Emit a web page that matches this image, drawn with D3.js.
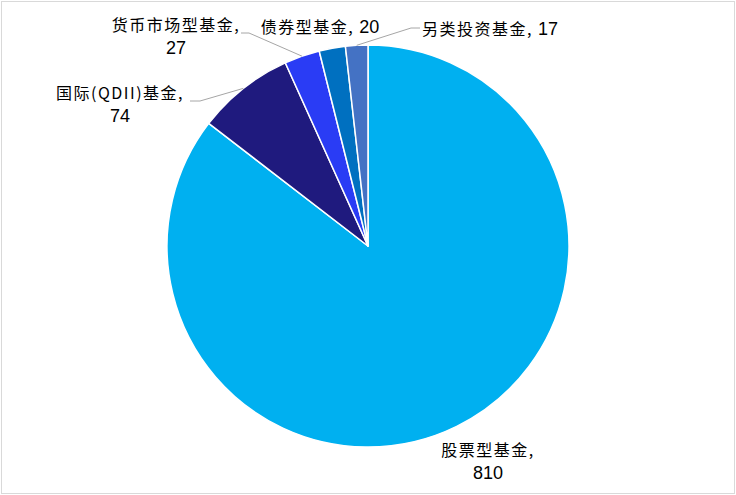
<!DOCTYPE html>
<html>
<head>
<meta charset="utf-8">
<script src="https://cdn.jsdelivr.net/npm/d3@7"></script>
<style>
  body { margin: 0; background: #fff; }
  svg { display: block; }
  text { font-family: "Noto Sans CJK SC", sans-serif; fill: #000; }
</style>
</head>
<body>
<div id="chart"></div>
<script>
// data
const categories = ["股票型基金", "国际(QDII)基金", "货币市场型基金", "债券型基金", "另类投资基金"];
const values = [810, 74, 27, 20, 17];
const colors = ["#00B0F0", "#1F1A7E", "#2A3CF5", "#0070C0", "#4472C4"];

// label layout: text centre, whether value goes on a second line, leader anchor (null = no leader)
const labelPos = [
  { x: 488, y: 456, wrap: true, lead: null },
  { x: 120, y: 99, wrap: true, lead: [190, 101, 200] },
  { x: 176, y: 31, wrap: true, lead: [241, 33, 249] },
  { x: 320, y: 33, wrap: false, lead: null },
  { x: 490, y: 35, wrap: false, lead: [420, 28, 411] }
];

const W = 736, H = 495;
const cx = 368, cy = 246, r = 201;

const svg = d3.select("#chart").append("svg")
  .attr("width", W)
  .attr("height", H);

// outer border
svg.append("rect")
  .attr("x", 1.5).attr("y", 1.5)
  .attr("width", W - 3).attr("height", H - 3)
  .attr("fill", "#fff")
  .attr("stroke", "#d9d9d9")
  .attr("stroke-width", 1);

const rows = categories.map((c, i) => ({ name: c, value: values[i], color: colors[i], pos: labelPos[i] }));

const pie = d3.pie().sort(null).value(d => d.value);
const arc = d3.arc().innerRadius(0).outerRadius(r);
const arcs = pie(rows);

const g = svg.append("g").attr("transform", `translate(${cx},${cy})`);

g.selectAll("path.slice")
  .data(arcs)
  .enter().append("path")
  .attr("class", "slice")
  .attr("d", arc)
  .attr("fill", d => d.data.color)
  .attr("stroke", "#fff")
  .attr("stroke-width", 1.5)
  .attr("stroke-linejoin", "round");

// leader lines
arcs.forEach(d => {
  const lead = d.data.pos.lead;
  if (!lead) return;
  const mid = (d.startAngle + d.endAngle) / 2;
  const px = cx + r * Math.sin(mid);
  const py = cy - r * Math.cos(mid);
  svg.append("polyline")
    .attr("points", `${lead[0]},${lead[1]} ${lead[2]},${lead[1]} ${px},${py}`)
    .attr("fill", "none")
    .attr("stroke", "#a6a6a6")
    .attr("stroke-width", 1);
});

// labels
arcs.forEach(d => {
  const p = d.data.pos;
  const t = svg.append("text")
    .attr("text-anchor", "middle")
    .attr("font-size", 16);
  if (p.wrap) {
    t.append("tspan").attr("x", p.x).attr("y", p.y)
      .attr("letter-spacing", 1.5)
      .text(d.data.name + ",");
    t.append("tspan").attr("x", p.x).attr("y", p.y + 23)
      .attr("font-size", 18)
      .attr("font-family", "'Liberation Sans Narrow', 'Liberation Sans', sans-serif")
      .text(d.data.value);
  } else {
    t.attr("x", p.x).attr("y", p.y);
    t.append("tspan").attr("letter-spacing", 1.5).text(d.data.name + ",");
    t.append("tspan")
      .attr("font-size", 18)
      .attr("font-family", "'Liberation Sans Narrow', 'Liberation Sans', sans-serif")
      .text(" " + d.data.value);
  }
});
</script>
</body>
</html>
